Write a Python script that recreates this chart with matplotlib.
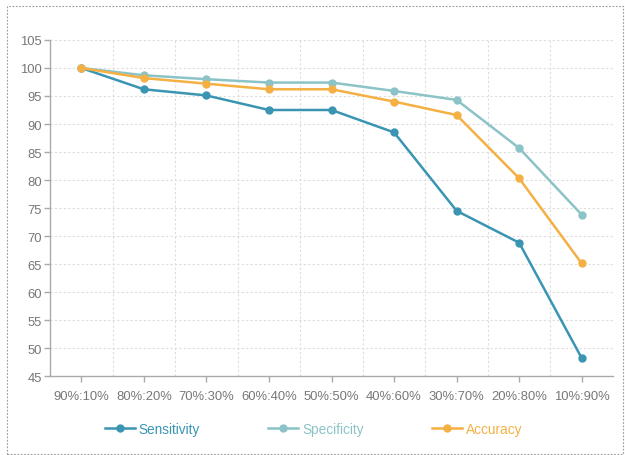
import matplotlib
matplotlib.use("Agg")
import matplotlib.pyplot as plt
from matplotlib.patches import Rectangle
from matplotlib.ticker import FixedLocator

plt.rcParams["font.family"] = ["Liberation Sans", "DejaVu Sans"]

categories = ["90%:10%", "80%:20%", "70%:30%", "60%:40%", "50%:50%",
              "40%:60%", "30%:70%", "20%:80%", "10%:90%"]
sensitivity = [100, 96.2, 95.1, 92.5, 92.5, 88.5, 74.5, 68.8, 48.2]
specificity = [100, 98.7, 98.0, 97.4, 97.4, 95.9, 94.3, 85.7, 73.8]
accuracy = [100, 98.2, 97.2, 96.2, 96.2, 94.0, 91.6, 80.3, 65.1]
y_ticks = list(range(45, 106, 5))

series = [
    ("Sensitivity", sensitivity, "#3a95b3"),
    ("Specificity", specificity, "#8cc3c7"),
    ("Accuracy", accuracy, "#f5b043"),
]

fig = plt.figure(figsize=(6.25, 4.56), dpi=100)
ax = fig.add_axes([0.08, 0.1732, 0.9008, 0.7369])

x = range(len(categories))
for name, values, color in series:
    ax.plot(x, values, color=color, lw=1.8, marker="o", ms=5,
            label=name, zorder=3)

ax.set_xlim(-0.5, len(categories) - 0.5)
ax.set_ylim(45, 105)
ax.set_yticks(y_ticks)
ax.set_xticks(list(x))
ax.set_xticklabels(categories)

# dotted grid: horizontal at each y tick, vertical between categories
grid_kw = dict(color="#dddddd", lw=0.8, linestyle=(0, (2, 2)), zorder=0)
for yv in y_ticks[1:]:
    ax.axhline(yv, **grid_kw)
for i in range(1, len(categories) + 1):
    ax.axvline(i - 0.5, **grid_kw)

for side in ("top", "right"):
    ax.spines[side].set_visible(False)
for side in ("left", "bottom"):
    ax.spines[side].set_color("#aaaaaa")
    ax.spines[side].set_linewidth(1.0)

ax.tick_params(axis="both", colors="#aaaaaa", labelcolor="#777777",
               labelsize=9.4, length=4, width=1.0)
ax.tick_params(axis="x", pad=6)
ax.tick_params(axis="y", pad=2)

leg = fig.legend(loc="center", bbox_to_anchor=(0.5016, 1 - 430 / 456),
                 ncol=3, frameon=False, fontsize=9.8, handlelength=2.2,
                 handletextpad=0.3, columnspacing=5.0)
for text, (_, _, color) in zip(leg.get_texts(), series):
    text.set_color(color)

# dotted frame around the whole figure
fig.patches.append(Rectangle((7 / 625, 1 / 456), 616 / 625, 448 / 456,
                             transform=fig.transFigure, fill=False,
                             edgecolor="#999999", lw=0.8,
                             linestyle=(0, (1.5, 1.5))))

fig.savefig("out.png", dpi=100)
